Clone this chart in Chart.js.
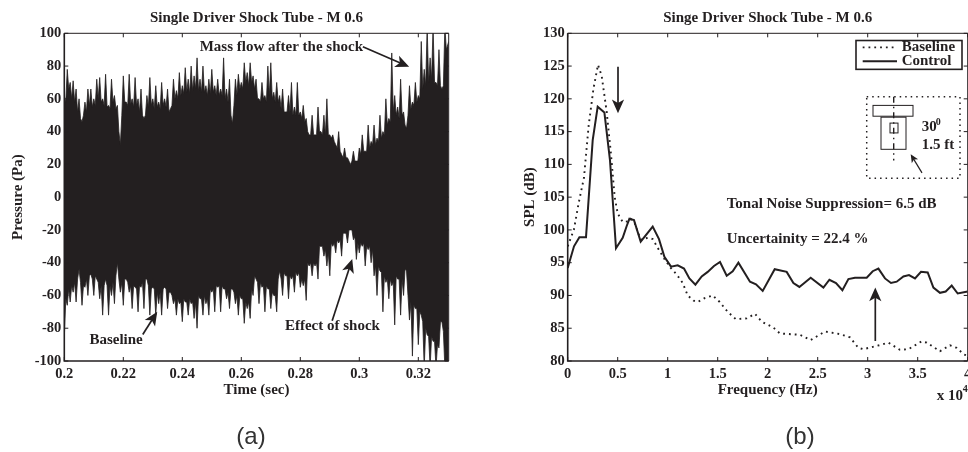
<!DOCTYPE html>
<html>
<head>
<meta charset="utf-8">
<script src="https://cdn.jsdelivr.net/npm/chart.js@4"></script>
<style>
html,body{margin:0;padding:0;background:#fff;width:968px;height:452px;overflow:hidden}
canvas{position:absolute;top:0}
#a{left:0}
#b{left:484px}
</style>
</head>
<body>
<canvas id="a" width="484" height="452"></canvas>
<canvas id="b" width="500" height="452"></canvas>
<script>
const time = [
0.2000,0.2005,0.2010,0.2015,0.2020,0.2025,0.2030,0.2035,0.2040,0.2045,0.2050,0.2055,0.2060,0.2065,0.2070,0.2075,0.2080,0.2085,0.2090,0.2095,
0.2100,0.2105,0.2110,0.2115,0.2120,0.2125,0.2130,0.2135,0.2140,0.2145,0.2150,0.2155,0.2160,0.2165,0.2170,0.2175,0.2180,0.2185,0.2190,0.2195,
0.2200,0.2205,0.2210,0.2215,0.2220,0.2225,0.2230,0.2235,0.2240,0.2245,0.2250,0.2255,0.2260,0.2265,0.2270,0.2275,0.2280,0.2285,0.2290,0.2295,
0.2300,0.2305,0.2310,0.2315,0.2320,0.2325,0.2330,0.2335,0.2340,0.2345,0.2350,0.2355,0.2360,0.2365,0.2370,0.2375,0.2380,0.2385,0.2390,0.2395,
0.2400,0.2405,0.2410,0.2415,0.2420,0.2425,0.2430,0.2435,0.2440,0.2445,0.2450,0.2455,0.2460,0.2465,0.2470,0.2475,0.2480,0.2485,0.2490,0.2495,
0.2500,0.2505,0.2510,0.2515,0.2520,0.2525,0.2530,0.2535,0.2540,0.2545,0.2550,0.2555,0.2560,0.2565,0.2570,0.2575,0.2580,0.2585,0.2590,0.2595,
0.2600,0.2605,0.2610,0.2615,0.2620,0.2625,0.2630,0.2635,0.2640,0.2645,0.2650,0.2655,0.2660,0.2665,0.2670,0.2675,0.2680,0.2685,0.2690,0.2695,
0.2700,0.2705,0.2710,0.2715,0.2720,0.2725,0.2730,0.2735,0.2740,0.2745,0.2750,0.2755,0.2760,0.2765,0.2770,0.2775,0.2780,0.2785,0.2790,0.2795,
0.2800,0.2805,0.2810,0.2815,0.2820,0.2825,0.2830,0.2835,0.2840,0.2845,0.2850,0.2855,0.2860,0.2865,0.2870,0.2875,0.2880,0.2885,0.2890,0.2895,
0.2900,0.2905,0.2910,0.2915,0.2920,0.2925,0.2930,0.2935,0.2940,0.2945,0.2950,0.2955,0.2960,0.2965,0.2970,0.2975,0.2980,0.2985,0.2990,0.2995,
0.3000,0.3005,0.3010,0.3015,0.3020,0.3025,0.3030,0.3035,0.3040,0.3045,0.3050,0.3055,0.3060,0.3065,0.3070,0.3075,0.3080,0.3085,0.3090,0.3095,
0.3100,0.3105,0.3110,0.3115,0.3120,0.3125,0.3130,0.3135,0.3140,0.3145,0.3150,0.3155,0.3160,0.3165,0.3170,0.3175,0.3180,0.3185,0.3190,0.3195,
0.3200,0.3205,0.3210,0.3215,0.3220,0.3225,0.3230,0.3235,0.3240,0.3245,0.3250,0.3255,0.3260,0.3265,0.3270,0.3275,0.3280,0.3285,0.3290,0.3295,
0.3303];
const upperEnvelope = [
62,58,78,66,70,60,71,58,66,52,60,48,46,50,58,52,66,56,66,55,
60,56,72,60,73,58,60,56,75,55,56,54,72,58,62,54,56,40,32,50,
74,58,58,56,75,57,60,55,73,56,60,52,66,50,48,50,62,55,73,56,
60,54,68,55,58,54,70,56,60,55,66,52,54,56,72,60,65,60,76,62,
68,63,79,64,72,63,80,65,74,66,85,65,72,64,80,64,68,62,72,63,
78,64,68,62,72,62,66,62,85,60,66,58,72,50,45,56,72,62,75,66,
70,66,82,70,76,68,82,70,74,66,72,60,60,58,70,60,62,58,80,62,
82,60,64,58,70,58,62,54,66,52,52,52,62,52,70,50,55,50,70,50,
52,48,56,46,48,40,38,38,50,38,38,38,55,40,40,38,50,38,60,38,
38,36,38,34,32,30,40,28,26,24,30,24,24,22,20,22,28,22,22,22,
30,26,38,28,28,28,44,30,34,32,44,32,36,34,50,36,40,38,60,44,
48,46,88,52,62,50,55,48,72,50,52,44,42,50,68,54,58,56,70,58,
62,60,95,66,78,68,104,70,85,72,104,70,70,68,90,68,66,68,104,90,
95];
const lowerEnvelope = [
-86,-62,-66,-56,-64,-54,-58,-52,-64,-50,-44,-52,-66,-54,-55,-50,-60,-48,-47,-50,
-60,-48,-50,-52,-62,-54,-72,-54,-50,-54,-72,-54,-60,-52,-65,-48,-40,-50,-58,-52,
-66,-50,-50,-52,-58,-54,-68,-54,-55,-56,-70,-54,-55,-52,-68,-50,-50,-54,-72,-56,
-55,-56,-72,-58,-65,-58,-72,-56,-55,-56,-68,-58,-58,-60,-65,-62,-72,-62,-65,-64,
-76,-62,-64,-64,-72,-62,-65,-64,-74,-64,-80,-60,-62,-62,-72,-60,-65,-62,-72,-56,
-58,-56,-70,-54,-55,-54,-70,-54,-56,-56,-62,-58,-68,-56,-56,-58,-65,-60,-72,-60,
-62,-62,-77,-64,-68,-64,-74,-56,-60,-48,-50,-52,-65,-52,-55,-54,-70,-54,-56,-56,
-68,-58,-60,-60,-70,-50,-45,-50,-60,-46,-48,-48,-62,-48,-50,-48,-58,-46,-48,-46,
-55,-50,-54,-50,-63,-40,-42,-40,-48,-40,-42,-40,-50,-30,-30,-30,-36,-32,-42,-34,
-48,-28,-30,-28,-34,-26,-28,-26,-36,-22,-22,-22,-28,-20,-20,-20,-26,-24,-38,-28,
-34,-28,-30,-28,-42,-30,-32,-30,-40,-32,-48,-42,-60,-42,-45,-46,-70,-48,-52,-50,
-62,-50,-54,-52,-78,-48,-50,-50,-72,-50,-60,-44,-45,-60,-75,-64,-97,-66,-68,-68,
-90,-70,-72,-76,-104,-80,-84,-85,-104,-85,-88,-88,-104,-90,-92,-76,-76,-82,-104,-100,
-104];
const freqControl = [0,0.063,0.117,0.183,0.25,0.30,0.367,0.423,0.483,0.55,0.59,0.617,0.663,0.73,0.85,0.913,0.967,1.033,1.10,1.163,1.217,1.277,1.34,1.40,1.463,1.523,1.59,1.65,1.707,1.823,1.883,1.95,2.07,2.19,2.257,2.317,2.43,2.557,2.617,2.683,2.747,2.807,2.873,2.99,3.05,3.107,3.173,3.233,3.29,3.357,3.413,3.473,3.533,3.6,3.657,3.723,3.78,3.84,3.9,4.0];
const splControl = [94.2,97.5,98.9,98.9,113.7,118.8,117.9,110.6,97.2,98.8,100.6,101.7,101.5,98.2,100.5,98.6,95.9,94.4,94.6,94.1,92.6,91.65,92.9,93.6,94.5,95.1,93,93.7,95,92.1,91.7,90.7,94,93.6,91.9,91.3,92.7,91.2,92.4,91.9,90.8,92.5,92.7,92.7,93.7,94.1,92.6,91.9,92.1,92.9,93.1,92.6,93.6,93.5,91.2,90.4,90.6,91.5,90.3,90.6];
const freqBaseline = [0,0.063,0.107,0.163,0.21,0.257,0.303,0.34,0.39,0.43,0.47,0.5,0.55,0.6,0.63,0.67,0.73,0.80,0.85,0.91,0.97,1.03,1.09,1.15,1.2,1.26,1.3,1.37,1.45,1.52,1.6,1.68,1.79,1.873,1.94,2.057,2.123,2.323,2.43,2.573,2.723,2.823,2.907,2.957,3.14,3.207,3.323,3.407,3.54,3.59,3.723,3.823,3.89,3.963,4.0];
const splBaseline = [97.5,100.1,103.9,108,116,121.5,125.2,123.5,118,112,105,102.5,101.2,101.3,101.7,101,98.5,98.8,98.6,97,95.5,94.2,93.2,91.9,90,89.2,89,89.6,90,89,87.5,86.4,86.5,87.2,86,85.1,84.2,84,83.2,84.5,84.1,83.6,82,81.8,82.5,82.8,81.7,81.8,83,82.8,81.5,82.4,82,81,80.8];
const timeTicks = [0.2,0.22,0.24,0.26,0.28,0.3,0.32];
const pressureTicks = [-100,-80,-60,-40,-20,0,20,40,60,80,100];
const freqTicks = [0,0.5,1,1.5,2,2.5,3,3.5,4];
const splTicks = [80,85,90,95,100,105,110,115,120,125,130];

const INK = '#231f20';
const SERIF = '"Liberation Serif", serif';
const TEXT_SIZE = 15;

function frame(chart){
  const {ctx, chartArea:a, scales:{x,y}} = chart;
  ctx.save();
  ctx.strokeStyle = INK;
  ctx.lineWidth = 1;
  ctx.beginPath();
  ctx.moveTo(a.left,a.top); ctx.lineTo(a.right,a.top); ctx.lineTo(a.right,a.bottom);
  ctx.stroke();
  ctx.lineWidth = 1.6;
  ctx.beginPath();
  ctx.moveTo(a.left,a.top); ctx.lineTo(a.left,a.bottom); ctx.lineTo(a.right,a.bottom);
  ctx.stroke();
  ctx.lineWidth = 1;
  ctx.beginPath();
  x.ticks.forEach(t=>{const p=x.getPixelForValue(t.value);
    ctx.moveTo(p,a.top); ctx.lineTo(p,a.top+4); ctx.moveTo(p,a.bottom); ctx.lineTo(p,a.bottom-4);});
  y.ticks.forEach(t=>{const p=y.getPixelForValue(t.value);
    ctx.moveTo(a.left,p); ctx.lineTo(a.left+4,p); ctx.moveTo(a.right,p); ctx.lineTo(a.right-4,p);});
  ctx.stroke();
  ctx.restore();
}
function text(chart,str,xv,yv,size,align){
  const {ctx,scales:{x,y}} = chart;
  ctx.save();
  ctx.fillStyle = INK;
  ctx.font = 'bold '+(size||TEXT_SIZE)+'px '+SERIF;
  ctx.textAlign = align||'left';
  ctx.textBaseline = 'middle';
  ctx.fillText(str,x.getPixelForValue(xv),y.getPixelForValue(yv));
  ctx.restore();
}
function arrow(chart,x0,y0,x1,y1,head,lw){
  const {ctx,scales:{x,y}} = chart;
  const ax=x.getPixelForValue(x0), ay=y.getPixelForValue(y0), bx=x.getPixelForValue(x1), by=y.getPixelForValue(y1);
  const ang=Math.atan2(by-ay,bx-ax), h=head||15;
  ctx.save();
  ctx.strokeStyle=INK; ctx.fillStyle=INK; ctx.lineWidth=lw||1.7;
  ctx.beginPath(); ctx.moveTo(ax,ay); ctx.lineTo(bx-Math.cos(ang)*h*0.6,by-Math.sin(ang)*h*0.6); ctx.stroke();
  ctx.beginPath(); ctx.moveTo(bx,by);
  ctx.lineTo(bx-Math.cos(ang-0.42)*h,by-Math.sin(ang-0.42)*h);
  ctx.lineTo(bx-Math.cos(ang)*h*0.68,by-Math.sin(ang)*h*0.68);
  ctx.lineTo(bx-Math.cos(ang+0.42)*h,by-Math.sin(ang+0.42)*h);
  ctx.closePath(); ctx.fill();
  ctx.restore();
}
function box(chart,x0,y0,x1,y1,lw,dash){
  const {ctx,scales:{x,y}} = chart;
  ctx.save();
  ctx.strokeStyle=INK; ctx.lineWidth=lw||1; ctx.setLineDash(dash||[]);
  const l=x.getPixelForValue(x0),t=y.getPixelForValue(y0),r=x.getPixelForValue(x1),b=y.getPixelForValue(y1);
  ctx.strokeRect(l,t,r-l,b-t);
  ctx.restore();
}
function seg(chart,x0,y0,x1,y1,lw,dash){
  const {ctx,scales:{x,y}} = chart;
  ctx.save();
  ctx.strokeStyle=INK; ctx.lineWidth=lw||1; ctx.setLineDash(dash||[]);
  ctx.beginPath();
  ctx.moveTo(x.getPixelForValue(x0),y.getPixelForValue(y0));
  ctx.lineTo(x.getPixelForValue(x1),y.getPixelForValue(y1));
  ctx.stroke();
  ctx.restore();
}
function caption(chart,str,cx){
  const {ctx}=chart;
  ctx.save();
  ctx.fillStyle='#333';
  ctx.font='24px "Liberation Sans", sans-serif';
  ctx.textAlign='center'; ctx.textBaseline='middle';
  ctx.fillText(str,cx,437);
  ctx.restore();
}

function baseOptions(titleText,xMin,xMax,yMin,yMax,xTickList,yTickList,xTitle,yTitle,yFitWidth,pad){
  return {
    responsive:false, animation:false, events:[],
    layout:{padding:pad},
    plugins:{
      legend:{display:false},
      tooltip:{enabled:false},
      title:{display:true,text:titleText,color:INK,fullSize:false,
        font:{family:SERIF,size:TEXT_SIZE,weight:'bold',lineHeight:1.2},padding:{top:9,bottom:6.3}}
    },
    scales:{
      x:{type:'linear',min:xMin,max:xMax,
        afterBuildTicks:s=>{s.ticks=xTickList.map(v=>({value:v}));},
        afterFit:s=>{s.height=38;},
        grid:{display:false,drawTicks:false},border:{display:false},
        ticks:{color:INK,autoSkip:false,maxRotation:0,padding:5,
          font:{family:SERIF,size:14.5,weight:'bold'},callback:v=>String(Number(v.toFixed(2)))},
        title:{display:true,text:xTitle,color:INK,font:{family:SERIF,size:TEXT_SIZE,weight:'bold'},padding:{top:0,bottom:0}}},
      y:{type:'linear',min:yMin,max:yMax,
        afterBuildTicks:s=>{s.ticks=yTickList.map(v=>({value:v}));},
        afterFit:s=>{s.width=yFitWidth;},
        grid:{display:false,drawTicks:false},border:{display:false},
        ticks:{color:INK,autoSkip:false,padding:3,
          font:{family:SERIF,size:14.5,weight:'bold'},callback:v=>String(v)},
        title:{display:true,text:yTitle,color:INK,font:{family:SERIF,size:TEXT_SIZE,weight:'bold'},padding:{top:0,bottom:0}}}
    }
  };
}

new Chart(document.getElementById('a'),{
  type:'line',
  data:{datasets:[
    {label:'Upper',data:time.map((t,i)=>({x:t,y:upperEnvelope[i]})),borderColor:INK,backgroundColor:INK,borderWidth:0.8,pointRadius:0,tension:0,fill:'+1'},
    {label:'Lower',data:time.map((t,i)=>({x:t,y:lowerEnvelope[i]})),borderColor:INK,backgroundColor:INK,borderWidth:0.8,pointRadius:0,tension:0,fill:false}
  ]},
  options:baseOptions('Single Driver Shock Tube - M 0.6',0.2,0.3303,-100,100,timeTicks,pressureTicks,'Time (sec)','Pressure (Pa)',55.3,{left:9,right:35.3,top:0,bottom:53}),
  plugins:[{id:'decorA',afterDatasetsDraw(c){
    frame(c);
    text(c,'Mass flow after the shock',0.2459,91.7);
    arrow(c,0.3012,91.8,0.3169,79.6);
    text(c,'Baseline',0.2085,-87.4);
    arrow(c,0.2266,-83.8,0.2315,-69.9);
    text(c,'Effect of shock',0.2748,-78.6);
    arrow(c,0.2908,-75.4,0.2976,-37.8);
    caption(c,'(a)',251);
  }}]
});

new Chart(document.getElementById('b'),{
  type:'line',
  data:{datasets:[
    {label:'Baseline',data:freqBaseline.map((f,i)=>({x:f,y:splBaseline[i]})),borderColor:INK,borderWidth:1.9,borderDash:[1.8,4],pointRadius:0,tension:0,fill:false},
    {label:'Control',data:freqControl.map((f,i)=>({x:f,y:splControl[i]})),borderColor:INK,borderWidth:2,pointRadius:0,tension:0,fill:false}
  ]},
  options:baseOptions('Singe Driver Shock Tube - M 0.6',0,4,80,130,freqTicks,splTicks,'Frequency (Hz)','SPL (dB)',46.7,{left:37,right:16.3,top:0,bottom:53}),
  plugins:[{id:'decorB',afterDatasetsDraw(c){
    frame(c);
    arrow(c,0.503,124.9,0.503,117.8);
    arrow(c,3.076,83.05,3.076,91.2);
    text(c,'Tonal Noise Suppression= 6.5 dB',1.59,103.9);
    text(c,'Uncertainity = 22.4 %',1.59,98.55);
    // legend
    box(c,2.883,128.9,3.943,124.5,1.6);
    seg(c,2.95,127.85,3.293,127.85,1.7,[1.8,4]);
    seg(c,2.95,125.75,3.293,125.75,2);
    text(c,'Baseline',3.34,127.85);
    text(c,'Control',3.34,125.75);
    // inset
    box(c,2.99,120.3,3.923,107.9,1.5,[1.5,4]);
    box(c,3.053,119,3.453,117.35,1);
    box(c,3.133,117.2,3.383,112.3,1);
    box(c,3.223,116.3,3.303,114.8,1);
    seg(c,3.26,120.3,3.26,110.6,1.4,[6,4,1.5,4]);
    arrow(c,3.543,108.7,3.43,111.55,9,1.2);
    text(c,'30',3.54,115.67);
    text(c,'0',3.68,116.4,10);
    text(c,'1.5 ft',3.54,112.9);
    // exponent under the axis
    text(c,'x 10',3.69,74.6);
    text(c,'4',3.95,75.7,10);
    caption(c,'(b)',316);
  }}]
});
</script>
</body>
</html>
